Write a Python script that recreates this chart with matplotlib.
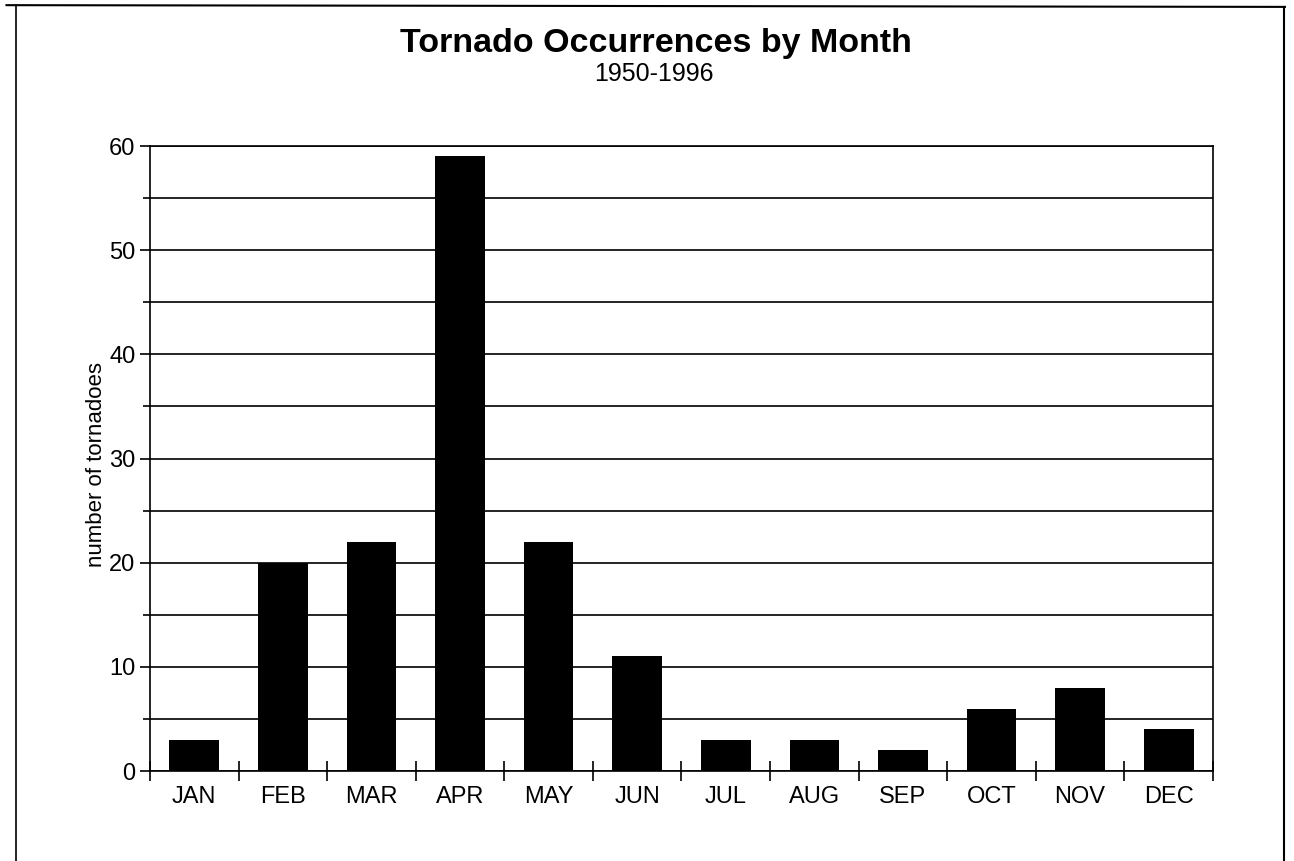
import matplotlib
matplotlib.use("Agg")
import matplotlib.pyplot as plt
from matplotlib.lines import Line2D
import numpy as np

months = ["JAN", "FEB", "MAR", "APR", "MAY", "JUN", "JUL", "AUG", "SEP", "OCT", "NOV", "DEC"]
counts = [3, 20, 22, 59, 22, 11, 3, 3, 2, 6, 8, 4]
y_major = [0, 10, 20, 30, 40, 50, 60]
y_minor = [5, 15, 25, 35, 45, 55]

plt.rcParams['font.family'] = ['Liberation Sans', 'DejaVu Sans']

fig = plt.figure(figsize=(12.94, 8.61), dpi=100)
ax = fig.add_axes([0.1159, 0.1045, 0.8215, 0.7259])

x = np.arange(len(months))
ax.bar(x, counts, width=0.56, color='black', zorder=3)

ax.set_xlim(-0.5, len(months) - 0.5)
ax.set_ylim(0, 60)
ax.set_yticks(y_major)
ax.set_yticks(y_minor, minor=True)
ax.yaxis.grid(True, which='both', color='black', linewidth=1.2, zorder=0)
ax.set_axisbelow(True)
ax.tick_params(axis='y', which='major', direction='out', length=7, width=1.2, labelsize=17, pad=3.5)
ax.tick_params(axis='y', which='minor', direction='out', length=5, width=1.2)

ax.set_xticks(np.arange(len(months) + 1) - 0.5)
ax.set_xticklabels([])
ax.set_xticks(x, minor=True)
ax.set_xticklabels(months, minor=True)
ax.tick_params(axis='x', which='major', direction='inout', length=14, width=1.2)
ax.tick_params(axis='x', which='minor', length=0, labelsize=17, pad=11)

for s in ax.spines.values():
    s.set_linewidth(1.2)
    s.set_color('black')

ax.set_ylabel("number of tornadoes", fontsize=16, labelpad=2)
ax.yaxis.set_label_coords(-0.040, 0.49)

fig.text(0.507, 0.949, "Tornado Occurrences by Month", ha='center', va='center',
         fontsize=24.5, fontweight='bold')
fig.text(0.505, 0.914, "1950-1996", ha='center', va='center', fontsize=18)

# page frame (scanned border)
fig.add_artist(Line2D([0.005, 0.993], [0.994, 0.992], transform=fig.transFigure, color='black', lw=1.5))
fig.add_artist(Line2D([0.012, 0.012], [0.0, 0.994], transform=fig.transFigure, color='black', lw=1.2))
fig.add_artist(Line2D([0.992, 0.992], [0.0, 0.992], transform=fig.transFigure, color='black', lw=1.5))

fig.savefig("out.png", dpi=100)
